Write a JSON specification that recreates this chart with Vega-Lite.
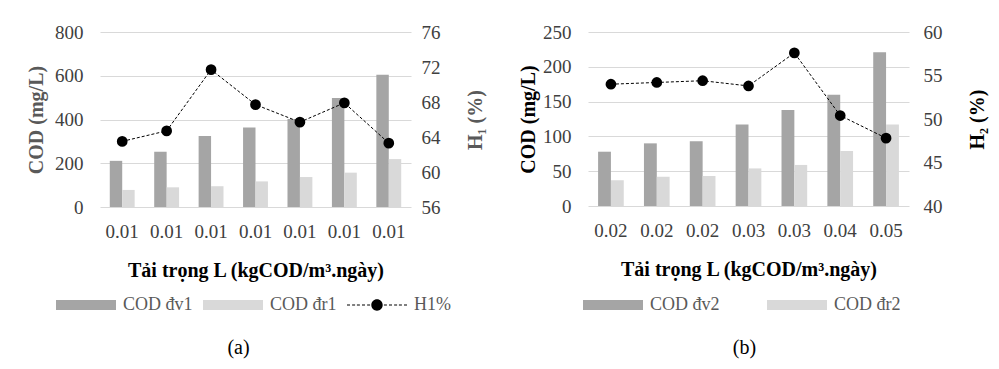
{
  "$schema": "https://vega.github.io/schema/vega-lite/v6.json",
  "background": "white",
  "padding": {"left": 26, "top": 23, "right": 5, "bottom": 5},
  "spacing": 33,
  "resolve": {"scale": {"color": "independent", "xOffset": "independent"}, "legend": {"color": "independent"}},
  "config": {
    "font": "Liberation Serif",
    "view": {"stroke": null},
    "axis": {
      "labelFont": "Liberation Serif",
      "titleFont": "Liberation Serif",
      "labelFontSize": 19,
      "titleFontSize": 20,
      "titleFontWeight": "bold",
      "labelColor": "#404040",
      "labelOverlap": false,
      "domain": false,
      "ticks": false,
      "gridColor": "#D9D9D9",
      "gridWidth": 1
    },
    "legend": {
      "labelFont": "Liberation Serif",
      "labelFontSize": 18,
      "labelColor": "#595959",
      "symbolStrokeWidth": 0,
      "symbolSize": 3600
    },
    "title": {"font": "Liberation Serif", "fontSize": 20, "fontWeight": "normal", "color": "#000000"}
  },
  "hconcat": [
    {
      "title": {"text": "(a)", "orient": "bottom", "anchor": "middle", "frame": "group", "dx": -17, "offset": 24},
      "width": 311,
      "height": 175,
      "data": {"values": [
        {"k": "1|0.01", "COD đv1": 211, "COD đr1": 78, "H": 63.5},
        {"k": "2|0.01", "COD đv1": 253, "COD đr1": 90, "H": 64.7},
        {"k": "3|0.01", "COD đv1": 325, "COD đr1": 95, "H": 71.7},
        {"k": "4|0.01", "COD đv1": 364, "COD đr1": 117, "H": 67.7},
        {"k": "5|0.01", "COD đv1": 402, "COD đr1": 137, "H": 65.7},
        {"k": "6|0.01", "COD đv1": 498, "COD đr1": 157, "H": 67.9},
        {"k": "7|0.01", "COD đv1": 605, "COD đr1": 219, "H": 63.3}
      ]},
      "layer": [
        {
          "transform": [{"fold": ["COD đv1", "COD đr1"], "as": ["series", "cod"]}],
          "mark": {"type": "bar"},
          "encoding": {
            "x": {
              "field": "k", "type": "ordinal",
              "scale": {"type": "band", "paddingInner": 0.44, "paddingOuter": 0.22},
              "axis": {
                "labelExpr": "split(datum.label, '|')[1]",
                "labelAngle": 0,
                "labelPadding": 15,
                "titlePadding": 19,
                "title": "Tải trọng L (kgCOD/m³.ngày)",
                "titleColor": "#000000"
              }
            },
            "xOffset": {"field": "series", "sort": ["COD đv1", "COD đr1"], "scale": {"paddingInner": 0, "paddingOuter": 0}},
            "y": {
              "field": "cod", "type": "quantitative",
              "scale": {"domain": [0, 800]},
              "axis": {
                "values": [0, 200, 400, 600, 800],
                "grid": true,
                "labelOverlap": false,
                "labelPadding": 17,
                "titlePadding": 8,
                "title": "COD (mg/L)",
                "titleColor": "#595959"
              }
            },
            "color": {
              "field": "series",
              "scale": {"domain": ["COD đv1", "COD đr1", "H1%"], "range": ["#A5A5A5", "#D9D9D9", "#000000"]},
              "legend": {
                "orient": "none",
                "legendX": -44,
                "legendY": 243,
                "direction": "horizontal",
                "title": null,
                "columnPadding": 10,
                "labelOffset": 7,
                "encode": {
                  "symbols": {
                    "update": {
                      "shape": {"signal": "datum.value === 'H1%' ? 'M-1,-0.02H-0.9V0.02H-1Z M-0.83,-0.02H-0.73V0.02H-0.83Z M-0.67,-0.02H-0.57V0.02H-0.67Z M-0.5,-0.02H-0.4V0.02H-0.5Z M-0.33,-0.02H-0.23V0.02H-0.33Z M0.23,-0.02H0.33V0.02H0.23Z M0.4,-0.02H0.5V0.02H0.4Z M0.57,-0.02H0.67V0.02H0.57Z M0.73,-0.02H0.83V0.02H0.73Z M0.9,-0.02H1V0.02H0.9Z M-0.19,0A0.19,0.19,0,1,0,0.19,0A0.19,0.19,0,1,0,-0.19,0Z' : 'M-1,-0.17H1V0.17H-1Z'"}
                    }
                  }
                }
              }
            }
          }
        },
        {
          "mark": {"type": "line", "color": "#000000", "strokeWidth": 1, "strokeDash": [3, 2], "point": {"filled": true, "color": "#000000", "size": 115, "opacity": 1}},
          "encoding": {
            "x": {"field": "k", "type": "ordinal"},
            "y": {
              "field": "H", "type": "quantitative",
              "scale": {"domain": [56, 76]},
              "axis": {
                "orient": "right",
                "values": [56, 60, 64, 68, 72, 76],
                "grid": false,
                "labelOverlap": false,
                "labelBound": false,
                "labelPadding": 10,
                "titlePadding": 45,
                "title": "H₁ (%)",
                "titleAngle": 270,
                "titleColor": "#595959"
              }
            }
          }
        }
      ],
      "resolve": {"scale": {"y": "independent"}}
    },
    {
      "title": {"text": "(b)", "orient": "bottom", "anchor": "middle", "frame": "group", "dx": -4, "offset": 24},
      "width": 321,
      "height": 174,
      "data": {"values": [
        {"k": "1|0.02", "COD đv2": 78, "COD đr2": 37, "H": 54.0},
        {"k": "2|0.02", "COD đv2": 90, "COD đr2": 42, "H": 54.2},
        {"k": "3|0.02", "COD đv2": 93, "COD đr2": 43, "H": 54.4},
        {"k": "4|0.03", "COD đv2": 117, "COD đr2": 54, "H": 53.8},
        {"k": "5|0.03", "COD đv2": 138, "COD đr2": 59, "H": 57.6},
        {"k": "6|0.04", "COD đv2": 160, "COD đr2": 79, "H": 50.4},
        {"k": "7|0.05", "COD đv2": 221, "COD đr2": 117, "H": 47.8}
      ]},
      "layer": [
        {
          "transform": [{"fold": ["COD đv2", "COD đr2"], "as": ["series", "cod"]}],
          "mark": {"type": "bar"},
          "encoding": {
            "x": {
              "field": "k", "type": "ordinal",
              "scale": {"type": "band", "paddingInner": 0.44, "paddingOuter": 0.22},
              "axis": {
                "labelExpr": "split(datum.label, '|')[1]",
                "labelAngle": 0,
                "labelPadding": 15,
                "titlePadding": 19,
                "title": "Tải trọng L (kgCOD/m³.ngày)",
                "titleColor": "#000000"
              }
            },
            "xOffset": {"field": "series", "sort": ["COD đv2", "COD đr2"], "scale": {"paddingInner": 0, "paddingOuter": 0}},
            "y": {
              "field": "cod", "type": "quantitative",
              "scale": {"domain": [0, 250]},
              "axis": {
                "values": [0, 50, 100, 150, 200, 250],
                "grid": true,
                "labelOverlap": false,
                "labelPadding": 17,
                "titlePadding": 4,
                "title": "COD (mg/L)",
                "titleColor": "#000000"
              }
            },
            "color": {
              "field": "series",
              "scale": {"domain": ["COD đv2", "COD đr2"], "range": ["#A5A5A5", "#D9D9D9"]},
              "legend": {
                "orient": "none",
                "legendX": -5,
                "legendY": 243,
                "direction": "horizontal",
                "title": null,
                "columnPadding": 47,
                "labelOffset": 7,
                "encode": {
                  "symbols": {
                    "update": {
                      "shape": {"value": "M-1,-0.17H1V0.17H-1Z"}
                    }
                  }
                }
              }
            }
          }
        },
        {
          "mark": {"type": "line", "color": "#000000", "strokeWidth": 1, "strokeDash": [3, 2], "point": {"filled": true, "color": "#000000", "size": 115, "opacity": 1}},
          "encoding": {
            "x": {"field": "k", "type": "ordinal"},
            "y": {
              "field": "H", "type": "quantitative",
              "scale": {"domain": [40, 60]},
              "axis": {
                "orient": "right",
                "values": [40, 45, 50, 55, 60],
                "grid": false,
                "labelOverlap": false,
                "labelBound": false,
                "labelPadding": 14,
                "titlePadding": 45,
                "title": "H₂ (%)",
                "titleAngle": 270,
                "titleColor": "#000000"
              }
            }
          }
        }
      ],
      "resolve": {"scale": {"y": "independent"}}
    }
  ]
}
